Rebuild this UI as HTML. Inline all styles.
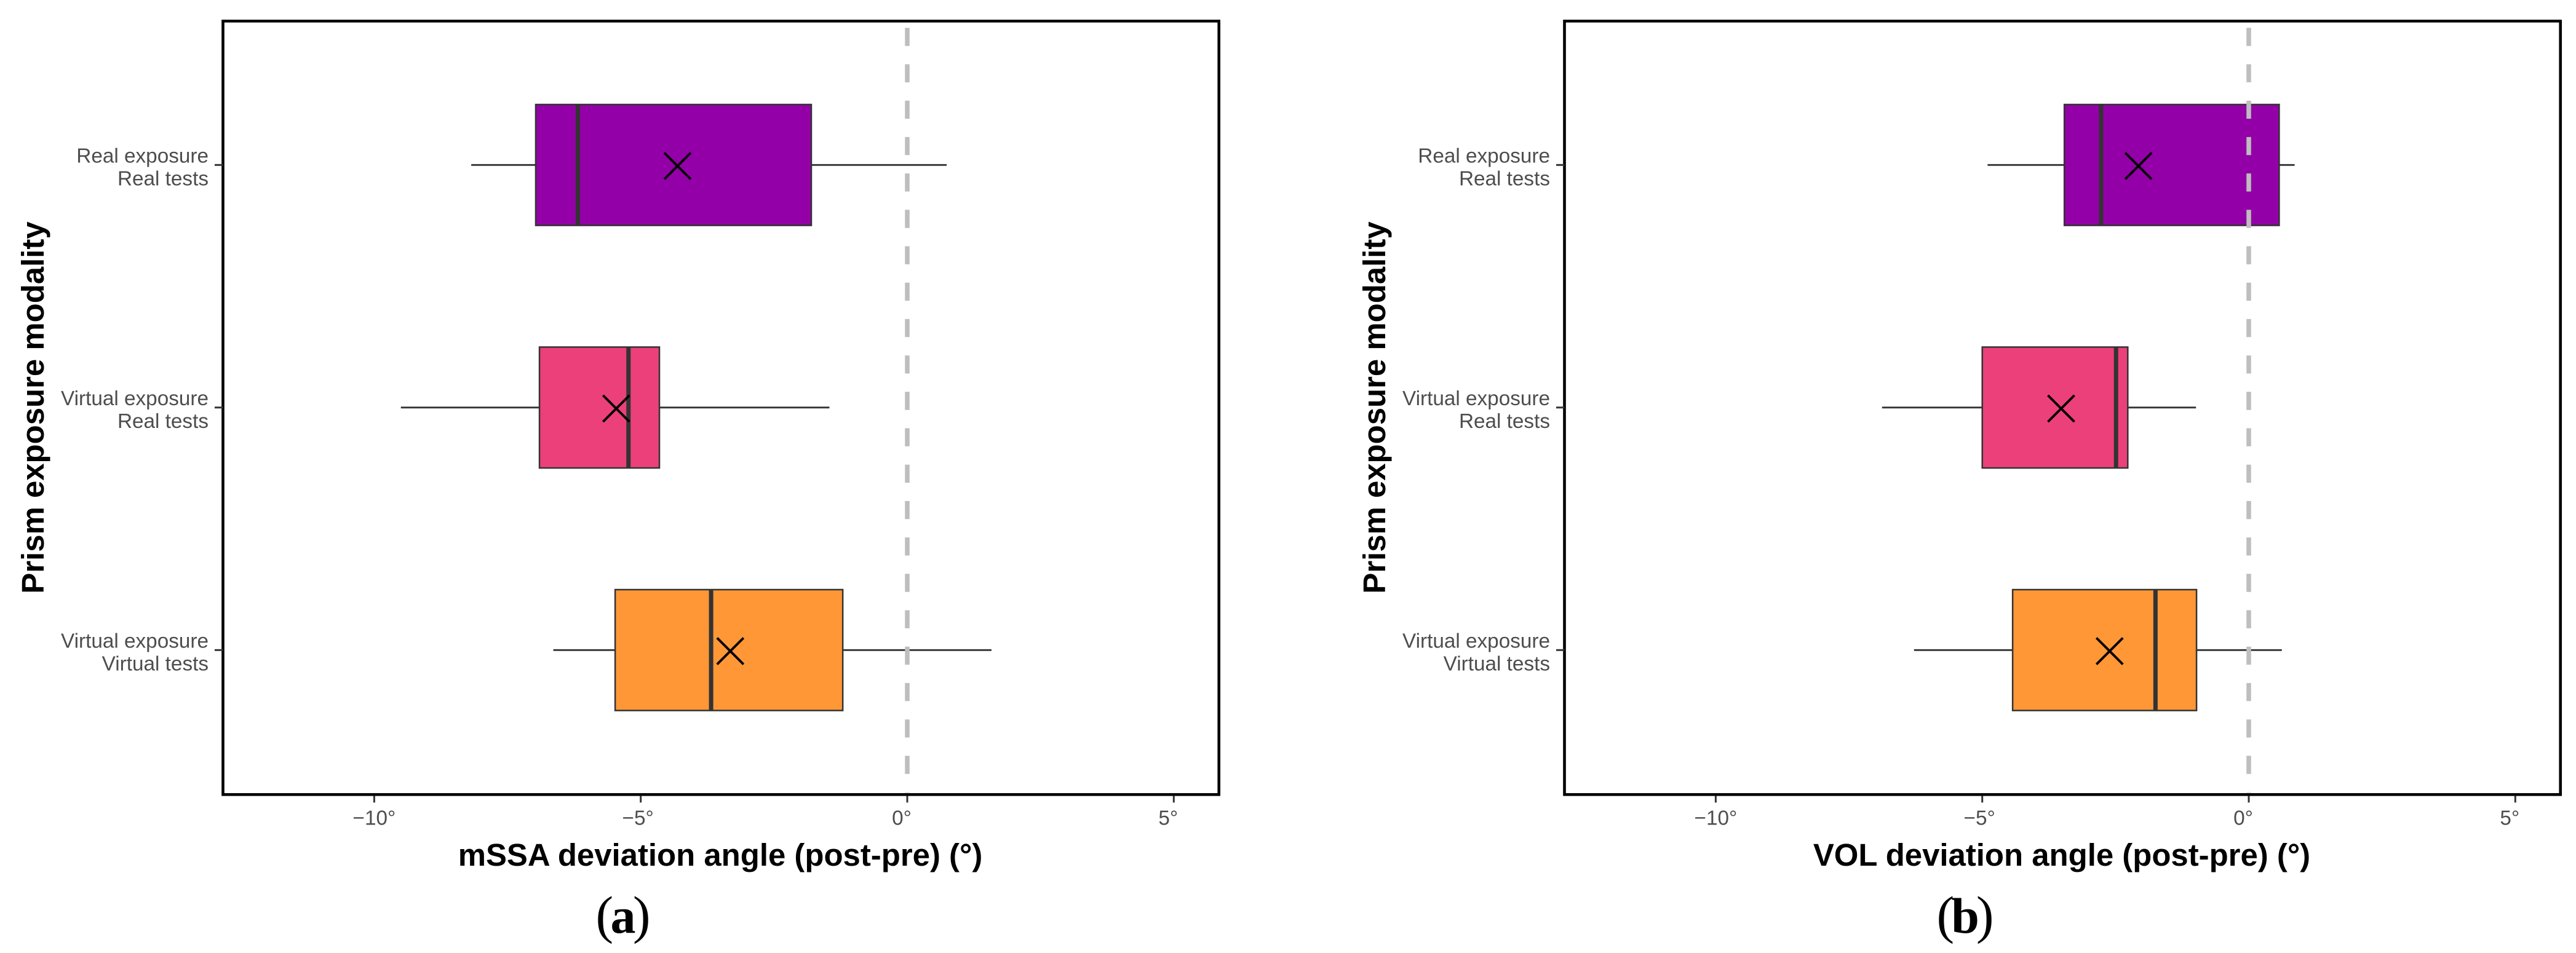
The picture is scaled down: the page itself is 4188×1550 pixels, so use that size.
<!DOCTYPE html>
<html lang="en">
<head>
<meta charset="utf-8">
<title>Prism exposure deviation angles</title>
<style>
html,body{margin:0;padding:0;background:#fff;}
svg{display:block;}
text{font-family:"Liberation Sans",sans-serif;}
.axis-title{font-weight:bold;font-size:50.9px;fill:#000;}
.tick-label{font-size:33.3px;fill:#4d4d4d;}
.caption{font-family:"Liberation Serif",serif;fill:#000;}
</style>
</head>
<body>
<svg id="figure" xmlns="http://www.w3.org/2000/svg" width="4188" height="1550" viewBox="0 0 4188 1550">
  <rect x="0" y="0" width="4188" height="1550" fill="#fff"/>
  <g id="panel-a">
    <text class="axis-title" text-anchor="middle" transform="translate(71,663) rotate(-90)">Prism exposure modality</text>
    <text class="axis-title" text-anchor="middle" x="1171" y="1408">mSSA deviation angle (post-pre) (°)</text>
    <text class="caption" text-anchor="middle" x="1013" y="1517" textLength="89" lengthAdjust="spacing"><tspan font-size="86">(</tspan><tspan font-size="82" font-weight="bold">a</tspan><tspan font-size="86">)</tspan></text>
  </g>
  <g id="panel-b">
    <text class="axis-title" text-anchor="middle" transform="translate(2252,663) rotate(-90)">Prism exposure modality</text>
    <text class="axis-title" text-anchor="middle" x="3352" y="1408">VOL deviation angle (post-pre) (°)</text>
    <text class="caption" text-anchor="middle" x="3195" y="1517" textLength="93" lengthAdjust="spacing"><tspan font-size="86">(</tspan><tspan font-size="82" font-weight="bold">b</tspan><tspan font-size="86">)</tspan></text>
  </g>
</svg>
<script>
// Categories and axis labels
const categoryLine1 = ["Real exposure", "Virtual exposure", "Virtual exposure"];
const categoryLine2 = ["Real tests", "Real tests", "Virtual tests"];
const categoryKeys = ["real-real", "virtual-real", "virtual-virtual"];
const boxColors = ["#9400a8", "#ec407a", "#ff9737"];
const xTickValues = [-10, -5, 0, 5];
const xTickLabels = ["\u221210°", "\u22125°", "0°", "5°"];

// Panel a: mSSA deviation angle
const mssaLow = [-8.18, -9.50, -6.64];
const mssaQ1 = [-6.97, -6.90, -5.48];
const mssaMedian = [-6.18, -5.23, -3.68];
const mssaQ3 = [-1.80, -4.65, -1.21];
const mssaHigh = [0.74, -1.46, 1.58];
const mssaMean = [-4.31, -5.46, -3.32];

// Panel b: VOL deviation angle
const volLow = [-4.90, -6.88, -6.28];
const volQ1 = [-3.46, -5.00, -4.43];
const volMedian = [-2.77, -2.49, -1.75];
const volQ3 = [0.57, -2.27, -0.98];
const volHigh = [0.86, -0.99, 0.62];
const volMean = [-2.07, -3.52, -2.61];

const referenceValue = 0;

const SVG_NS = "http://www.w3.org/2000/svg";
const DARK = "#333333";

function mk(parent, tag, attrs, text) {
  const el = document.createElementNS(SVG_NS, tag);
  for (const k in attrs) el.setAttribute(k, attrs[k]);
  if (text !== undefined) el.textContent = text;
  parent.appendChild(el);
  return el;
}

function drawPanel(groupId, suffix, offset, low, q1, median, q3, high, mean) {
  const g = document.getElementById(groupId);
  const x = v => offset + 1475 + 86.66 * v;
  const y = i => 268.3 + 394.5 * i;
  const halfBox = 98.3;
  const left = offset + 362.5, right = offset + 1981.7, top = 34.3, bottom = 1292.3;

  // plot frame
  const frame = mk(g, "rect", {x: left, y: top, width: right - left, height: bottom - top, fill: "#fff", stroke: "#000", "stroke-width": 4.6});
  
  

  // x axis ticks and labels
  xTickValues.forEach((v, i) => {
    const tick = mk(g, "line", {x1: x(v), x2: x(v), y1: bottom + 2, y2: 1305.3, stroke: DARK, "stroke-width": 3});
    
    
    const lab = xTickLabels[i];
    const shift = -9 + 4.5 * (lab.length - 2);
    const label = mk(g, "text", {x: x(v) + shift, y: 1341.7, "text-anchor": "middle", class: "tick-label"}, lab);
    
    
  });

  // y axis ticks and labels
  categoryLine1.forEach((c, i) => {
    const tick = mk(g, "line", {x1: offset + 349, x2: left, y1: y(i), y2: y(i), stroke: DARK, "stroke-width": 3});
    
    
    const l1 = mk(g, "text", {x: offset + 339, y: y(i) - 4, "text-anchor": "end", class: "tick-label"}, c);
    
    
    const l2 = mk(g, "text", {x: offset + 339, y: y(i) + 33, "text-anchor": "end", class: "tick-label"}, categoryLine2[i]);
    
    
  });

  // box plots
  categoryKeys.forEach((key, i) => {
    const whisker = mk(g, "line", {x1: x(low[i]), x2: x(high[i]), y1: y(i), y2: y(i), stroke: DARK, "stroke-width": 2.8});
    
    

    const box = mk(g, "rect", {x: x(q1[i]), y: y(i) - halfBox, width: x(q3[i]) - x(q1[i]), height: 2 * halfBox, fill: boxColors[i], stroke: DARK, "stroke-width": 2.5});
    
    

    const med = mk(g, "line", {x1: x(median[i]), x2: x(median[i]), y1: y(i) - halfBox, y2: y(i) + halfBox, stroke: DARK, "stroke-width": 7});
    
    

    const mx = x(mean[i]), my = y(i) + 1.7, r = 21.5;
    const cross = mk(g, "path", {d: "M" + (mx - r) + " " + (my - r) + "L" + (mx + r) + " " + (my + r) + "M" + (mx - r) + " " + (my + r) + "L" + (mx + r) + " " + (my - r), fill: "none", stroke: "#000", "stroke-width": 3.9});
    
    
  });

  // reference line at zero
  const ref = mk(g, "line", {x1: x(referenceValue), x2: x(referenceValue), y1: 45.3, y2: bottom - 3, stroke: "#bebebe", "stroke-width": 7.5, "stroke-dasharray": "29.4 29.8"});
  
  
}

drawPanel("panel-a", "a", 0, mssaLow, mssaQ1, mssaMedian, mssaQ3, mssaHigh, mssaMean);
drawPanel("panel-b", "b", 2181, volLow, volQ1, volMedian, volQ3, volHigh, volMean);
</script>
</body>
</html>
